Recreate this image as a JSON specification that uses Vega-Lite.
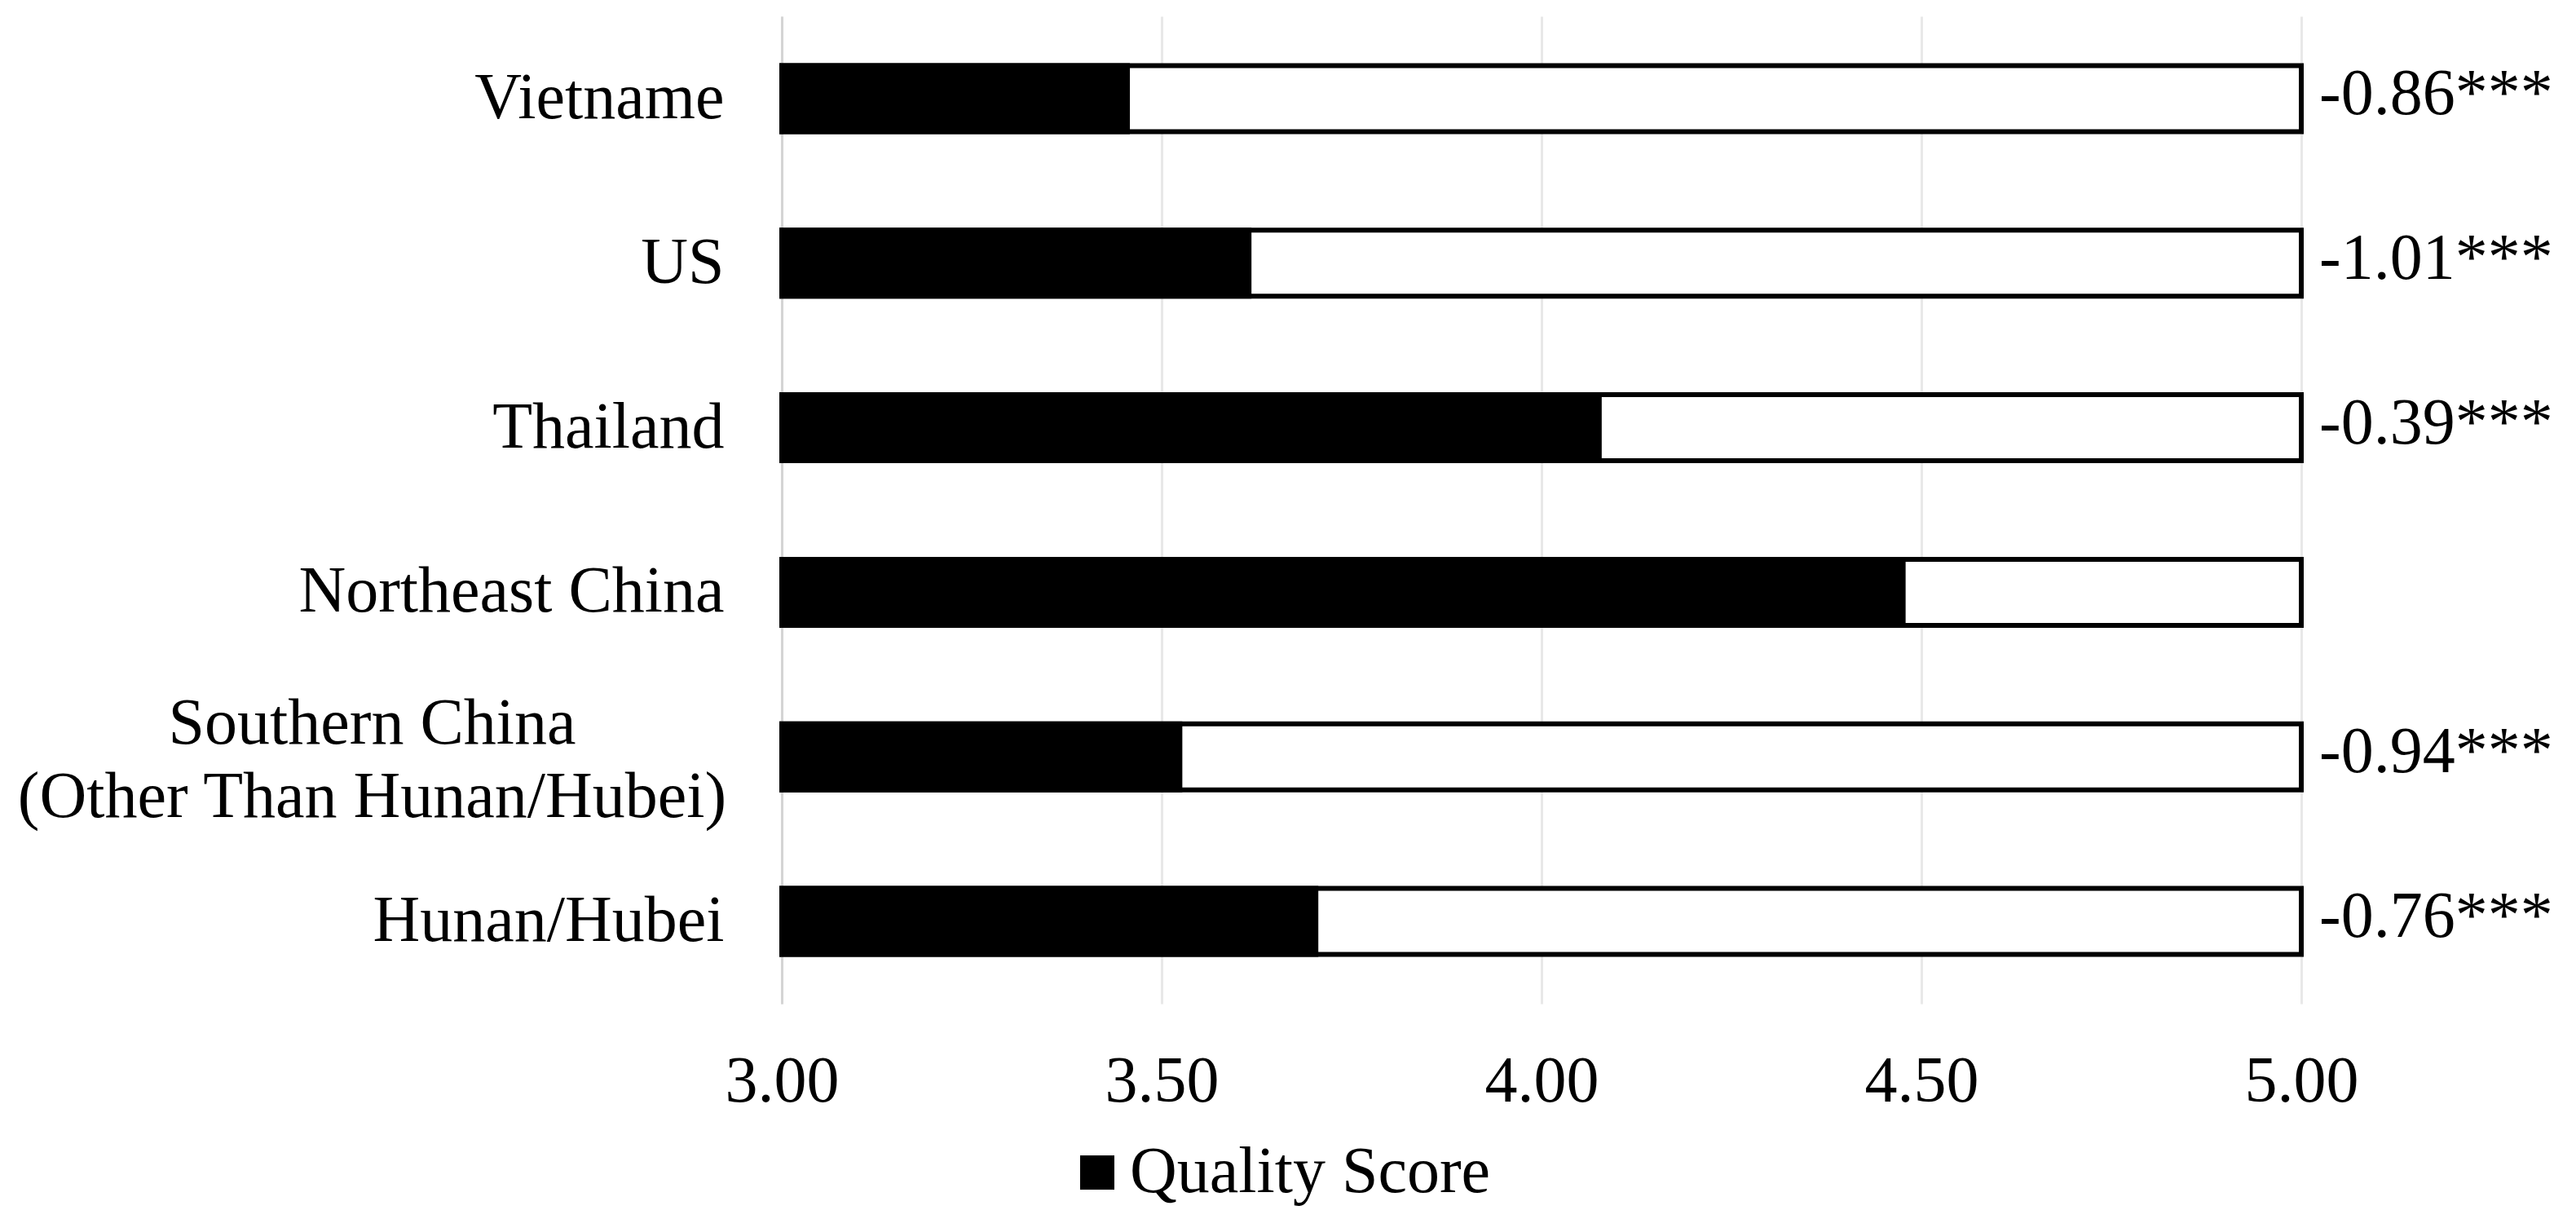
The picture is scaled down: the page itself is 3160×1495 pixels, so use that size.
{
  "$schema": "https://vega.github.io/schema/vega-lite/v6.json",
  "autosize": "none",
  "padding": {"left": 959, "top": 20, "right": 337, "bottom": 264},
  "width": 1864,
  "height": 1211,
  "background": "white",
  "data": {
    "values": [
      {"region": "Vietname", "score": 3.455, "label": "-0.86***"},
      {"region": "US", "score": 3.615, "label": "-1.01***"},
      {"region": "Thailand", "score": 4.076, "label": "-0.39***"},
      {"region": "Northeast China", "score": 4.476, "label": ""},
      {"region": "Southern China (Other Than Hunan/Hubei)", "score": 3.524, "label": "-0.94***"},
      {"region": "Hunan/Hubei", "score": 3.703, "label": "-0.76***"}
    ]
  },
  "config": {
    "font": "Liberation Serif",
    "view": {"stroke": null},
    "axis": {"labelFont": "Liberation Serif", "labelColor": "black", "labelFontSize": 80, "title": null}
  },
  "encoding": {
    "y": {
      "field": "region",
      "type": "nominal",
      "sort": null,
      "scale": {"paddingInner": 0, "paddingOuter": 0},
      "axis": {
        "ticks": false,
        "domain": true,
        "domainColor": "#d4d4d4",
        "domainWidth": 3,
        "labelLineHeight": 90,
        "labelLimit": 1000,
        "labelAlign": {"condition": {"test": "datum.value == 'Southern China (Other Than Hunan/Hubei)'", "value": "center"}, "value": "right"},
        "labelPadding": {"condition": {"test": "datum.value == 'Southern China (Other Than Hunan/Hubei)'", "value": 503}, "value": 71},
        "labelOffset": {"condition": {"test": "datum.value == 'Southern China (Other Than Hunan/Hubei)'", "value": -40}, "value": 0},
        "labelExpr": "datum.value == 'Southern China (Other Than Hunan/Hubei)' ? ['Southern China', '(Other Than Hunan/Hubei)'] : datum.label"
      }
    }
  },
  "layer": [
    {
      "mark": {"type": "bar", "size": 81, "fill": "white", "stroke": "black", "strokeWidth": 6},
      "encoding": {
        "x": {
          "datum": 5,
          "type": "quantitative",
          "scale": {"domain": [3, 5], "zero": false, "nice": false},
          "axis": {
            "values": [3, 3.5, 4, 4.5, 5],
            "format": ".2f",
            "ticks": false,
            "domain": false,
            "grid": true,
            "gridColor": "#e8e8e8",
            "gridWidth": 3,
            "labelFlush": false,
            "labelPadding": 56
          }
        },
        "x2": {"datum": 3}
      }
    },
    {
      "mark": {"type": "bar", "size": 81, "stroke": "black", "strokeWidth": 6},
      "encoding": {
        "x": {"field": "score", "type": "quantitative"},
        "x2": {"datum": 3},
        "color": {
          "datum": "Quality Score",
          "scale": {"range": ["black"]},
          "legend": {
            "orient": "none",
            "legendX": 347,
            "legendY": 1378,
            "title": null,
            "padding": 0,
            "symbolType": "square",
            "symbolSize": 1764,
            "symbolStrokeWidth": 0,
            "labelFont": "Liberation Serif",
            "labelFontSize": 80,
            "labelColor": "black",
            "labelOffset": 0,
            "labelLimit": 1000
          }
        }
      }
    },
    {
      "mark": {"type": "text", "align": "left", "baseline": "middle", "dx": 22, "dy": -5, "fontSize": 80, "font": "Liberation Serif", "color": "black"},
      "encoding": {
        "x": {"datum": 5, "type": "quantitative"},
        "text": {"field": "label"}
      }
    }
  ]
}
